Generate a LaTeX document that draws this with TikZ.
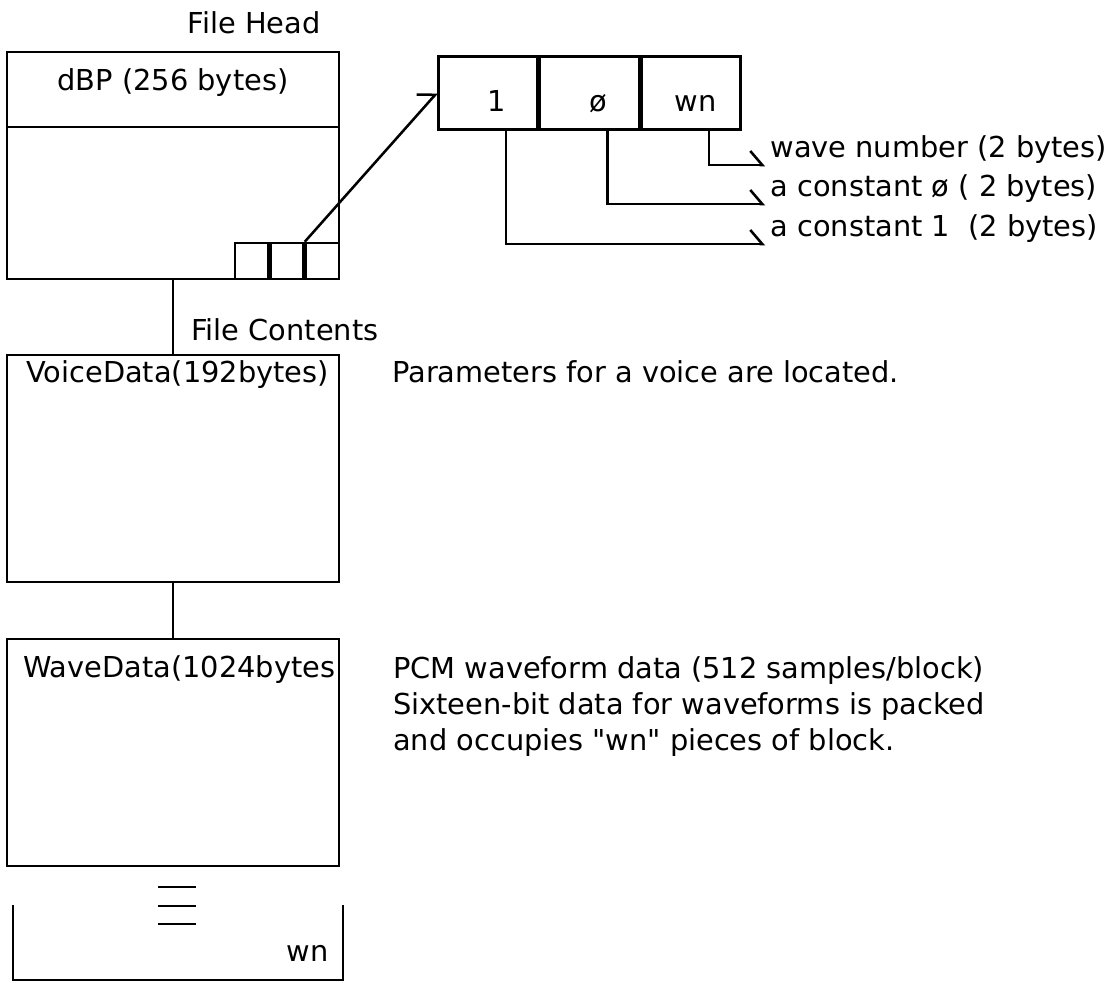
\documentclass[tikz,border=0pt]{standalone}
\usepackage{fontspec}
\setmainfont{DejaVu Sans}
\newfontfamily\plainsans{DejaVu Sans}
\usetikzlibrary{arrows.meta,positioning}

\begin{document}
\begin{tikzpicture}[
  x=0.025cm, y=-0.025cm,
  font=\fontsize{20.5}{25.6}\selectfont,
  line width=1.8pt,
  block/.style={draw, minimum width=8.3cm, minimum height=5.675cm, inner sep=0pt},
  cell/.style={draw, minimum width=0.825cm, minimum height=0.9cm, inner sep=0pt},
  field/.style={draw, minimum width=2.475cm, minimum height=1.825cm, inner sep=0pt,
                text height=26pt, text depth=0pt},
  txt/.style={inner sep=0pt},
  note/.style={inner xsep=3pt, inner ysep=0pt, anchor=south west},
  arrow/.style={-{Straight Barb[left, length=3mm, width=7mm]}}
]
\useasboundingbox (0,0) rectangle (1110,983);

% file head
\node (fhead) at (254,23) {File Head};
\node[block] (head) at (173,165.5) {};
\node[block, minimum height=1.875cm, anchor=north, text depth=14pt] (dbp) at (head.north) {dBP (256 bytes)};
\node[cell, anchor=south east] (s3) at (head.south east) {};
\node[cell, left=0pt of s3] (s2) {};
\node[cell, left=0pt of s2] (s1) {};

% the three fields
\node[field, anchor=north west] (f1) at (437,55) {\ \ 1};
\node[field, right=0pt of f1] (f2) {\ \ ø};
\node[field, right=0pt of f2] (f3) {\ wn};
\draw[arrow] (s2.north east) -- (f1.west);

\node[note] (wnum) at (765,165) {wave number (2 bytes)};
\node[note] (zero) at (765,204) {a constant ø ( 2 bytes)};
\node[note] (one)  at (765,244) {a constant 1\ \ (2 bytes)};
\draw[arrow] ([xshift=0.45cm]f3.south) |- (wnum.south west);
\draw[arrow] ([xshift=0.45cm]f2.south) |- (zero.south west);
\draw[arrow] ([xshift=0.45cm]f1.south) |- (one.south west);

% file contents
\node[txt, anchor=west] (fcont) at (190,330) {File Contents};
\node[block] (voice) at (173,468.5) {};
\node[txt, anchor=west] (vname) at (25,375) {VoiceData(192bytes)};
\node[txt, anchor=base west] (vnote) at (vname.base -| 391,0) {Parameters for a voice are located.};
\draw (head.south) -- (voice.north);

\node[block] (wave) at (173,752.5) {};
\node[txt, anchor=west] (wname) at (22,670) {WaveData(1024bytes};
\node[txt, anchor=north west, align=left] (wnote) at (392,655)
  {PCM waveform data (512 samples/block)\\Sixteen-bit data for waveforms is packed\\and occupies {\plainsans"wn"} pieces of block.};
\draw (voice.south) -- (wave.north);

% last block, open at the top
\foreach \y in {887,906,924}
  \draw (158,\y) -- (196,\y);
\draw (13,905) -- (13,980) -- (343,980) -- (343,905);
\node[txt, anchor=east] (lastwn) at (330,953) {wn};
\end{tikzpicture}
\end{document}
